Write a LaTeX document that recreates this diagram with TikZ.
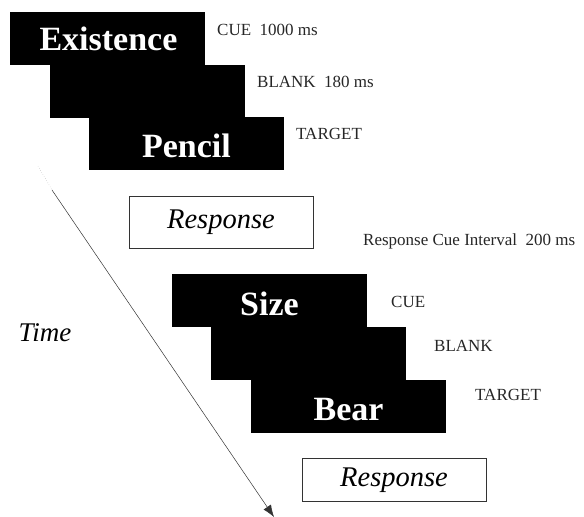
\documentclass[tikz,border=0pt]{standalone}
\usepackage{fontspec}
\setmainfont{Liberation Serif}
\usetikzlibrary{arrows.meta}
\begin{document}
\begin{tikzpicture}[x=1pt,y=-1pt,
  slide/.style={fill=black,draw=none,minimum width=195pt,inner sep=0pt,outer sep=0pt},
  word/.style={text=white,font=\fontsize{34}{34}\selectfont\bfseries,anchor=base,inner sep=0pt},
  lbl/.style={font=\fontsize{17}{17}\selectfont,anchor=west,inner sep=0pt,text=black!85},
  resp/.style={draw=black!80,line width=0.6pt,minimum width=184pt,inner sep=0pt,
     font=\fontsize{28.5}{28.5}\selectfont\itshape}]
\useasboundingbox (0,0) rectangle (584,517);
% first trial
\node[slide,minimum height=53pt] (c1) at (107.5,38.5) {};
\node[slide,minimum height=53pt] (b1) at (147.5,91) {};
\node[slide,minimum height=53pt] (t1) at (186.5,143.5) {};
\node[word] (w1) at (108.5,50) {Existence};
\node[word] (w2) at (186.5,157) {Pencil};
\node[lbl] (l1) at (217,30) {CUE\ \ 1000 ms};
\node[lbl] (l2) at (257,82) {BLANK\ \ 180 ms};
\node[lbl] (l3) at (296,134) {TARGET};
\node[resp,minimum height=52pt] (r1) at (221,222) {Response};
\node[lbl] (rci) at (363,241) {Response Cue Interval\ \ 200 ms};
% second trial
\node[slide,minimum height=53pt] (c2) at (269.5,300.5) {};
\node[slide,minimum height=53pt] (b2) at (308.5,353.5) {};
\node[slide,minimum height=53pt] (t2) at (348.5,406.5) {};
\node[word] (w3) at (269.5,315) {Size};
\node[word] (w4) at (348.5,420) {Bear};
\node[lbl] (m1) at (391,302) {CUE};
\node[lbl] (m2) at (434,346) {BLANK};
\node[lbl] (m3) at (475,395) {TARGET};
\node[resp,minimum height=43pt] (r2) at (394,480) {Response};
% time arrow
\node[font=\fontsize{27}{27}\selectfont\itshape,inner sep=0pt] (time) at (45,333) {Time};
\coordinate (a0) at (38,166);
\coordinate (a1) at (52,190);
\coordinate (a2) at (274,517);
\draw[black!35,line width=0.4pt,dotted] (a0) -- (a1);
\draw[black!80,line width=0.5pt,-{Latex[length=12pt,width=9pt]}] (a1) -- (a2);
\end{tikzpicture}
\end{document}
